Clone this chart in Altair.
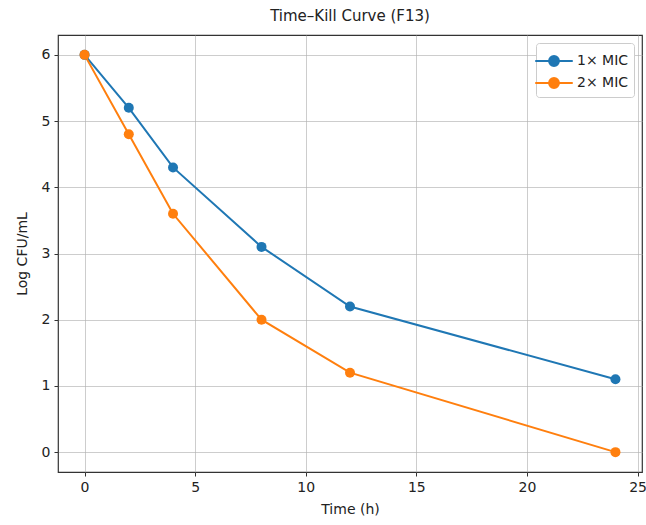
import altair as alt
import pandas as pd

# Sampling times (h) and log counts for each treatment
times = [0, 2, 4, 8, 12, 24]
mic_1x = [6.0, 5.2, 4.3, 3.1, 2.2, 1.1]
mic_2x = [6.0, 4.8, 3.6, 2.0, 1.2, 0.0]
series_names = ["1\u00d7 MIC", "2\u00d7 MIC"]
series_colors = ["#1f77b4", "#ff7f0e"]

x_ticks = [0, 5, 10, 15, 20, 25]
y_ticks = [0, 1, 2, 3, 4, 5, 6]

rows = []
for name, vals in zip(series_names, [mic_1x, mic_2x]):
    for t, v in zip(times, vals):
        rows.append({"Time": t, "LogCFU": v, "Series": name})
df = pd.DataFrame(rows)

FONT = "DejaVu Sans"

x_enc = alt.X(
    "Time:Q",
    title="Time (h)",
    scale=alt.Scale(domain=[-1.2, 25.2], nice=False, zero=False),
    axis=alt.Axis(values=x_ticks, format="d"),
)
y_enc = alt.Y(
    "LogCFU:Q",
    title="Log CFU/mL",
    scale=alt.Scale(domain=[-0.3, 6.3], nice=False, zero=False),
    axis=alt.Axis(values=y_ticks, format="d"),
)
color_enc = alt.Color(
    "Series:N",
    scale=alt.Scale(domain=series_names, range=series_colors),
    legend=alt.Legend(
        title=None,
        orient="top-right",
        offset=8,
        # line segment with a dot in the middle
        symbolType="M-1.6,0H1.6M0.42,0A0.42,0.42 0 1 1 -0.42,0A0.42,0.42 0 1 1 0.42,0Z",
        symbolSize=550,
        symbolStrokeWidth=2,
        labelFont=FONT,
        labelFontSize=14,
        labelColor="#222222",
        fillColor="white",
        strokeColor="#cccccc",
        cornerRadius=3,
        padding=5,
        rowPadding=0,
        labelOffset=10,
    ),
)

base = alt.Chart(df).encode(x=x_enc, y=y_enc, color=color_enc)

lines = base.mark_line(strokeWidth=2)
points = base.mark_point(filled=True, opacity=1, size=100)

chart = (
    alt.layer(lines, points)
    .properties(
        width=584,
        height=437,
        title=alt.TitleParams(
            "Time\u2013Kill Curve (F13)",
            font=FONT,
            fontSize=15,
            fontWeight="normal",
            color="#222222",
            offset=11,
        ),
        autosize=alt.AutoSizeParams(type="none"),
        padding={"left": 58, "top": 35, "right": 4, "bottom": 53},
    )
    .configure_view(stroke="#333333", strokeWidth=1.2)
    .configure_axis(
        labelFont=FONT,
        titleFont=FONT,
        labelFontSize=14,
        titleFontSize=14,
        titleFontWeight="normal",
        labelColor="#222222",
        titleColor="#222222",
        grid=True,
        gridColor="#b0b0b0",
        gridWidth=0.8,
        gridOpacity=0.8,
        domain=False,
        tickColor="#333333",
        tickSize=4,
        labelPadding=4,
    )
    .configure_axisY(titlePadding=12)
    .configure_axisX(titlePadding=8)
)

chart.save("out.html", embed_options={"renderer": "svg", "actions": False})
